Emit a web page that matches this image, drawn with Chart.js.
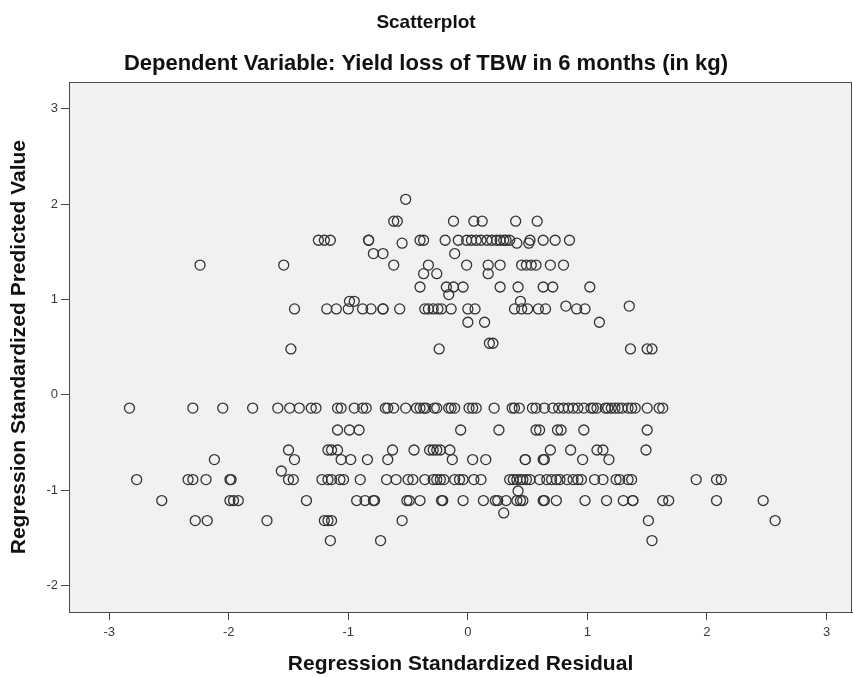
<!DOCTYPE html>
<html>
<head>
<meta charset="utf-8">
<script src="https://cdn.jsdelivr.net/npm/chart.js@4.4.1/dist/chart.umd.min.js"></script>
<style>
  html, body { margin: 0; padding: 0; background: #ffffff; overflow: hidden; }
  #wrap { width: 853px; height: 677px; position: relative; }
  #scatter { display: block; }
</style>
</head>
<body>
<div id="wrap"><canvas id="scatter"></canvas></div>
<script>
const predictedLevels = [2.05, 1.82, 1.62, 1.59, 1.48, 1.36, 1.27, 1.13, 1.05, 0.98, 0.93, 0.90, 0.76, 0.54, 0.48,
  -0.14, -0.37, -0.58, -0.68, -0.80, -0.89, -1.01, -1.11, -1.24, -1.32, -1.53];

const residualsAtLevel = [
  [-0.52],
  [-0.62, -0.59, -0.12, 0.05, 0.12, 0.40, 0.58],
  [-1.25, -1.20, -1.15, -0.83, -0.83, -0.40, -0.37, -0.19, -0.08, -0.01, 0.03, 0.07, 0.11, 0.16, 0.20, 0.24, 0.27, 0.30, 0.32, 0.35, 0.52, 0.63, 0.73, 0.85],
  [-0.55, 0.41, 0.51],
  [-0.79, -0.71, -0.11],
  [-2.24, -1.54, -0.62, -0.33, -0.01, 0.17, 0.27, 0.45, 0.49, 0.53, 0.57, 0.69, 0.80],
  [-0.37, -0.26, 0.17],
  [-0.40, -0.18, -0.12, -0.04, 0.27, 0.42, 0.63, 0.71, 1.02],
  [-0.16],
  [-0.99, -0.95, 0.44],
  [0.82, 1.35],
  [-1.45, -1.18, -1.10, -1.00, -0.88, -0.81, -0.71, -0.71, -0.57, -0.36, -0.33, -0.29, -0.25, -0.22, -0.14, 0.00, 0.06, 0.39, 0.45, 0.50, 0.59, 0.65, 0.91, 0.98],
  [0.00, 0.14, 1.10],
  [0.18, 0.21],
  [-1.48, -0.24, 1.36, 1.50, 1.54],
  [-2.83, -2.30, -2.05, -1.80, -1.59, -1.49, -1.41, -1.31, -1.27, -1.09, -1.06, -0.95, -0.88, -0.85, -0.69, -0.67, -0.62, -0.52,
   -0.43, -0.40, -0.37, -0.35, -0.28, -0.26, -0.16, -0.14, -0.11, 0.01, 0.04, 0.07, 0.22, 0.37, 0.39, 0.43, 0.54, 0.57, 0.64,
   0.71, 0.76, 0.80, 0.84, 0.88, 0.92, 0.97, 1.03, 1.05, 1.08, 1.15, 1.17, 1.20, 1.23, 1.26, 1.29, 1.34, 1.37, 1.40, 1.50, 1.60, 1.63],
  [-1.09, -0.99, -0.91, -0.06, 0.26, 0.57, 0.60, 0.75, 0.78, 0.97, 1.50],
  [-1.50, -1.17, -1.14, -1.09, -0.63, -0.45, -0.32, -0.29, -0.26, -0.23, -0.15, 0.69, 0.86, 1.08, 1.13, 1.49],
  [-2.12, -1.45, -1.06, -0.98, -0.84, -0.67, -0.13, 0.04, 0.15, 0.48, 0.48, 0.63, 0.64, 0.96, 1.18],
  [-1.56],
  [-2.77, -2.34, -2.30, -2.19, -1.99, -1.98, -1.50, -1.46, -1.22, -1.17, -1.14, -1.07, -1.04, -0.90, -0.68, -0.60, -0.50, -0.46,
   -0.36, -0.29, -0.26, -0.23, -0.20, -0.11, -0.07, -0.04, 0.05, 0.11, 0.35, 0.38, 0.41, 0.44, 0.46, 0.49, 0.52, 0.60, 0.66,
   0.70, 0.74, 0.77, 0.83, 0.88, 0.92, 0.95, 1.06, 1.13, 1.24, 1.27, 1.34, 1.37, 1.91, 2.08, 2.12],
  [0.42],
  [-2.56, -1.99, -1.96, -1.92, -1.35, -0.93, -0.86, -0.79, -0.78, -0.51, -0.49, -0.40, -0.22, -0.21, -0.04, 0.13, 0.23, 0.25,
   0.32, 0.41, 0.44, 0.46, 0.63, 0.64, 0.74, 0.98, 1.16, 1.30, 1.38, 1.38, 1.63, 1.68, 2.08, 2.47],
  [0.30],
  [-2.28, -2.18, -1.68, -1.20, -1.17, -1.14, -0.55, 1.51, 2.57],
  [-1.15, -0.73, 1.54]
];

const xTickValues = [-3, -2, -1, 0, 1, 2, 3];
const yTickValues = [-2, -1, 0, 1, 2, 3];

const points = [];
predictedLevels.forEach((y, i) => {
  residualsAtLevel[i].forEach(x => points.push({ x: x, y: y }));
});

// plot background + frame like SPSS
const framePlugin = {
  id: 'framePlugin',
  beforeDraw(chart) {
    const { ctx, chartArea: { left, top, width, height } } = chart;
    ctx.save();
    ctx.fillStyle = '#f0f1f0';
    ctx.fillRect(left, top, width, height);
    ctx.restore();
  },
  afterDraw(chart) {
    const { ctx, chartArea: { left, top, right, bottom } } = chart;
    ctx.save();
    ctx.strokeStyle = '#4a4a4a';
    ctx.lineWidth = 1;
    ctx.strokeRect(Math.round(left) + 0.5, Math.round(top) + 0.5, Math.round(right - left) - 1, Math.round(bottom - top));
    ctx.restore();
  }
};

const tickColor = '#3a3a3a';
const fontFamily = '"Liberation Sans", Arial, sans-serif';

new Chart(document.getElementById('scatter'), {
  type: 'scatter',
  data: {
    datasets: [{
      label: 'Cases',
      data: points,
      pointStyle: 'circle',
      pointRadius: 5,
      pointBorderWidth: 1.3,
      borderColor: '#333333',
      backgroundColor: 'rgba(0,0,0,0)'
    }]
  },
  options: {
    responsive: true,
    maintainAspectRatio: false,
    animation: false,
    layout: { autoPadding: false, padding: { left: 0, right: 1, top: 0, bottom: 0 } },
    scales: {
      x: {
        type: 'linear',
        min: -3.336,
        max: 3.213,
        afterBuildTicks: (scale) => { scale.ticks = xTickValues.map(v => ({ value: v })); },
        afterFit: (scale) => { scale.height = 65; },
        grid: { display: true, drawOnChartArea: false, drawTicks: true, tickLength: 8, color: '#4a4a4a' },
        border: { display: true, color: '#4a4a4a' },
        ticks: { color: tickColor, font: { family: fontFamily, size: 13 }, padding: 5, maxRotation: 0 },
        title: {
          display: true,
          text: 'Regression Standardized Residual',
          color: '#111',
          font: { family: fontFamily, size: 21, weight: 'bold' },
          padding: { top: 0, bottom: 0 }
        }
      },
      y: {
        type: 'linear',
        min: -2.279,
        max: 3.278,
        afterBuildTicks: (scale) => { scale.ticks = yTickValues.map(v => ({ value: v })); },
        afterFit: (scale) => { scale.width = 69; },
        grid: { display: true, drawOnChartArea: false, drawTicks: true, tickLength: 8, color: '#4a4a4a' },
        border: { display: true, color: '#4a4a4a' },
        ticks: { color: tickColor, font: { family: fontFamily, size: 13 }, padding: 3 },
        title: {
          display: true,
          text: 'Regression Standardized Predicted Value',
          color: '#111',
          font: { family: fontFamily, size: 21, weight: 'bold' },
          padding: { top: 7, bottom: 0 }
        }
      }
    },
    plugins: {
      legend: { display: false },
      tooltip: { enabled: false },
      title: {
        display: true,
        text: 'Scatterplot',
        color: '#111',
        font: { family: fontFamily, size: 19, weight: 'bold' },
        padding: { top: 11, bottom: 9 }
      },
      subtitle: {
        display: true,
        text: 'Dependent Variable: Yield loss of TBW in 6 months (in kg)',
        color: '#111',
        font: { family: fontFamily, size: 22, weight: 'bold' },
        padding: { top: 8, bottom: 5 }
      }
    }
  },
  plugins: [framePlugin]
});
</script>
</body>
</html>
